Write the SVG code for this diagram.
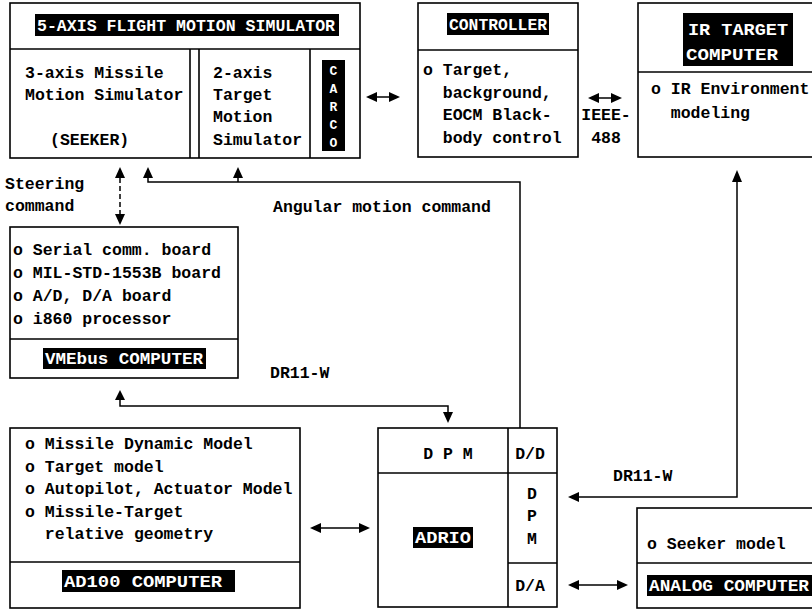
<svg xmlns="http://www.w3.org/2000/svg" width="812" height="609" viewBox="0 0 812 609">
<style>
.b{fill:none;stroke:#000;stroke-width:1.6}
.t{font-family:"Liberation Mono","DejaVu Sans Mono",monospace;font-weight:bold;font-size:16.5px;fill:#000}
.w{font-family:"Liberation Mono","DejaVu Sans Mono",monospace;font-weight:bold;font-size:16px;fill:#fff}
.c{fill:none;stroke:#000;stroke-width:1.5}
.d{fill:none;stroke:#000;stroke-width:1.5;stroke-dasharray:5 3}
.h{fill:#000}
</style>
<defs>
<marker id="ah" viewBox="0 0 10 10" refX="10" refY="5" markerWidth="10" markerHeight="10" markerUnits="userSpaceOnUse" orient="auto">
<path d="M0,0 L10,5 L0,10 Z" fill="#000"/>
</marker>
</defs>
<rect width="812" height="609" fill="#fff"/>

<g id="fms">
<rect class="b" x="10" y="3" width="350" height="155"/>
<line class="b" x1="10" y1="49" x2="360" y2="49"/>
<line class="b" x1="190" y1="49" x2="190" y2="158"/>
<line class="b" x1="199" y1="49" x2="199" y2="158"/>
<line class="b" x1="310" y1="49" x2="310" y2="158"/>
<rect class="h" x="35" y="14" width="304" height="22"/>
<text class="w" x="37" y="31" textLength="298" lengthAdjust="spacingAndGlyphs">5-AXIS FLIGHT MOTION SIMULATOR</text>
<text class="t" x="25" y="78">3-axis Missile</text>
<text class="t" x="25" y="100">Motion Simulator</text>
<text class="t" x="50" y="145">(SEEKER)</text>
<text class="t" x="213" y="78">2-axis</text>
<text class="t" x="213" y="100">Target</text>
<text class="t" x="213" y="122">Motion</text>
<text class="t" x="213" y="145">Simulator</text>
<rect class="h" x="322" y="60" width="23" height="91"/>
<text class="w" style="font-size:13px" text-anchor="middle" x="333.5" y="75">C</text>
<text class="w" style="font-size:13px" text-anchor="middle" x="333.5" y="93">A</text>
<text class="w" style="font-size:13px" text-anchor="middle" x="333.5" y="111">R</text>
<text class="w" style="font-size:13px" text-anchor="middle" x="333.5" y="129">C</text>
<text class="w" style="font-size:13px" text-anchor="middle" x="333.5" y="147">O</text>
</g>

<g id="controller">
<rect class="b" x="418" y="3" width="160" height="154"/>
<line class="b" x1="418" y1="50" x2="578" y2="50"/>
<rect class="h" x="447" y="13" width="102" height="22"/>
<text class="w" x="449" y="30" textLength="98" lengthAdjust="spacingAndGlyphs">CONTROLLER</text>
<text class="t" x="423" y="75">o Target,</text>
<text class="t" x="423" y="98" xml:space="preserve">  background,</text>
<text class="t" x="423" y="120" xml:space="preserve">  EOCM Black-</text>
<text class="t" x="423" y="143" xml:space="preserve">  body control</text>
</g>

<g id="ir-target">
<rect class="b" x="638" y="3" width="180" height="154"/>
<line class="b" x1="638" y1="72" x2="812" y2="72"/>
<rect class="h" x="683" y="13" width="110" height="53"/>
<text class="w" x="688" y="35" textLength="100" lengthAdjust="spacingAndGlyphs">IR TARGET</text>
<text class="w" x="686" y="60" textLength="92" lengthAdjust="spacingAndGlyphs">COMPUTER</text>
<text class="t" x="651" y="94">o IR Environment</text>
<text class="t" x="651" y="118" xml:space="preserve">  modeling</text>
</g>

<g id="vmebus">
<rect class="b" x="10" y="227" width="228" height="151"/>
<line class="b" x1="10" y1="339" x2="238" y2="339"/>
<text class="t" x="13" y="255">o Serial comm. board</text>
<text class="t" x="13" y="278">o MIL-STD-1553B board</text>
<text class="t" x="13" y="301">o A/D, D/A board</text>
<text class="t" x="13" y="324">o i860 processor</text>
<rect class="h" x="43" y="348" width="163" height="21"/>
<text class="w" x="45" y="364" textLength="158" lengthAdjust="spacingAndGlyphs">VMEbus COMPUTER</text>
</g>

<g id="ad100">
<rect class="b" x="10" y="428" width="290" height="180"/>
<line class="b" x1="10" y1="562" x2="300" y2="562"/>
<text class="t" x="25" y="449">o Missile Dynamic Model</text>
<text class="t" x="25" y="472">o Target model</text>
<text class="t" x="25" y="494">o Autopilot, Actuator Model</text>
<text class="t" x="25" y="517">o Missile-Target</text>
<text class="t" x="25" y="539" xml:space="preserve">  relative geometry</text>
<rect class="h" x="62" y="570" width="173" height="22"/>
<text class="w" x="64" y="587" textLength="158" lengthAdjust="spacingAndGlyphs">AD100 COMPUTER</text>
</g>

<g id="adrio">
<rect class="b" x="378" y="428" width="179" height="179"/>
<line class="b" x1="508" y1="428" x2="508" y2="607"/>
<line class="b" x1="378" y1="473" x2="557" y2="473"/>
<line class="b" x1="508" y1="563" x2="557" y2="563"/>
<text class="t" x="448" y="459" text-anchor="middle" xml:space="preserve">D P M</text>
<text class="t" x="530" y="459" text-anchor="middle">D/D</text>
<text class="t" x="532" y="499" text-anchor="middle">D</text>
<text class="t" x="532" y="521" text-anchor="middle">P</text>
<text class="t" x="532" y="544" text-anchor="middle">M</text>
<text class="t" x="530" y="591" text-anchor="middle">D/A</text>
<rect class="h" x="413" y="527" width="60" height="21"/>
<text class="w" x="415" y="543" textLength="56" lengthAdjust="spacingAndGlyphs">ADRIO</text>
</g>

<g id="analog">
<rect class="b" x="637" y="508" width="185" height="100"/>
<line class="b" x1="637" y1="563" x2="812" y2="563"/>
<text class="t" x="647" y="549">o Seeker model</text>
<rect class="h" x="647" y="575" width="165" height="21"/>
<text class="w" x="649" y="591" textLength="160" lengthAdjust="spacingAndGlyphs">ANALOG COMPUTER</text>
</g>

<g id="connectors">
<!-- FMS <-> controller -->
<line class="c" x1="377" y1="97" x2="389" y2="97"/>
<path class="h" d="M366,97 L377,92 L377,102 Z"/>
<path class="h" d="M400,97 L389,92 L389,102 Z"/>
<!-- controller <-> IR -->
<line class="c" x1="599" y1="98" x2="611" y2="98"/>
<path class="h" d="M588,98 L599,93 L599,103 Z"/>
<path class="h" d="M622,98 L611,93 L611,103 Z"/>
<text class="t" x="606" y="120" text-anchor="middle">IEEE-</text>
<text class="t" x="606" y="143" text-anchor="middle">488</text>
<!-- steering command -->
<line class="d" x1="120" y1="178" x2="120" y2="214"/>
<path class="h" d="M120,167 L115,178 L125,178 Z"/>
<path class="h" d="M120,225 L115,214 L125,214 Z"/>
<text class="t" x="5" y="189">Steering</text>
<text class="t" x="5" y="211">command</text>
<!-- angular motion command -->
<polyline class="c" points="148,178 148,182 520,182 520,428"/>
<line class="c" x1="238" y1="178" x2="238" y2="182"/>
<path class="h" d="M148,167 L143,178 L153,178 Z"/>
<path class="h" d="M238,167 L233,178 L243,178 Z"/>
<text class="t" x="273" y="212">Angular motion command</text>
<!-- VMEbus <-> DPM -->
<polyline class="c" points="120,400 120,406 448,406 448,412"/>
<path class="h" d="M120,390 L115,400 L125,400 Z"/>
<path class="h" d="M448,423 L443,412 L453,412 Z"/>
<text class="t" x="270" y="378">DR11-W</text>
<!-- IR <-> DPM -->
<polyline class="c" points="579,497 737,497 737,182"/>
<path class="h" d="M737,170 L732,182 L742,182 Z"/>
<path class="h" d="M568,497 L579,492 L579,502 Z"/>
<text class="t" x="613" y="481">DR11-W</text>
<!-- AD100 <-> ADRIO -->
<line class="c" x1="321" y1="528" x2="359" y2="528"/>
<path class="h" d="M310,528 L321,523 L321,533 Z"/>
<path class="h" d="M370,528 L359,523 L359,533 Z"/>
<!-- D/A <-> analog -->
<line class="c" x1="579" y1="585" x2="617" y2="585"/>
<path class="h" d="M568,585 L579,580 L579,590 Z"/>
<path class="h" d="M628,585 L617,580 L617,590 Z"/>
</g>
</svg>
